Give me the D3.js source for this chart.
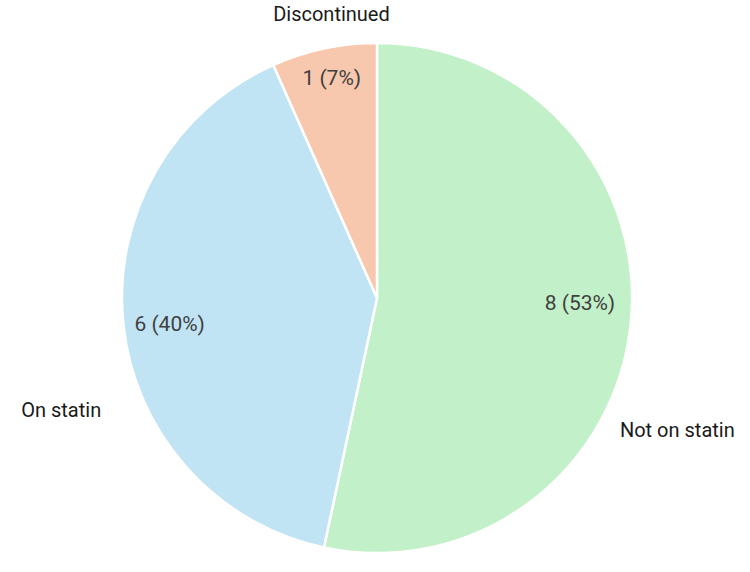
<!DOCTYPE html>
<html><head><meta charset="utf-8">
<script src="https://cdn.jsdelivr.net/npm/d3@7"></script>
<style>body{margin:0;background:#fff}svg{display:block}</style>
</head><body>
<svg id="c" width="750" height="572"></svg>
<script>
const categories = ["Not on statin", "On statin", "Discontinued"];
const counts = [8, 6, 1];
const percentLabels = ["53%", "40%", "7%"];
const colors = ["#c2f0c8", "#c1e4f5", "#f7c8ad"];

// layout (angles in degrees, clockwise from 12 o'clock)
const innerLabelAngles = [91.4, 262.8, 348.4];
const innerLabelRadius = [203, 209, 225];
const outerLabelAngles = [113.7, 250.5, 350.9];
const outerLabelRadius = [328, 335, 288];

const W = 750, H = 572, cx = 377, cy = 298, R = 255;
const svg = d3.select("#c");
const g = svg.append("g").attr("transform", `translate(${cx},${cy})`);

const data = categories.map((c, i) => ({cat: c, value: counts[i], pct: percentLabels[i], color: colors[i], i}));
const pie = d3.pie().value(d => d.value).sort(null);
const arc = d3.arc().innerRadius(0).outerRadius(R);
const arcs = pie(data);

g.selectAll("path").data(arcs).join("path")
  .attr("d", arc)
  .attr("fill", d => d.data.color)
  .attr("stroke", "#fff")
  .attr("stroke-width", 2.5)
  .attr("stroke-linejoin", "round");

const pos = (deg, r) => {
  const a = deg * Math.PI / 180;
  return [r * Math.sin(a), -r * Math.cos(a)];
};

g.selectAll("text.inner").data(arcs).join("text")
  .attr("class", "inner")
  .attr("x", d => pos(innerLabelAngles[d.data.i], innerLabelRadius[d.data.i])[0])
  .attr("y", d => pos(innerLabelAngles[d.data.i], innerLabelRadius[d.data.i])[1])
  .attr("text-anchor", "middle")
  .attr("dominant-baseline", "central")
  .attr("font-family", "Roboto, sans-serif")
  .attr("font-size", 21)
  .attr("fill", "#404040")
  .text(d => `${d.data.value} (${d.data.pct})`);

g.selectAll("text.outer").data(arcs).join("text")
  .attr("class", "outer")
  .attr("x", d => pos(outerLabelAngles[d.data.i], outerLabelRadius[d.data.i])[0])
  .attr("y", d => pos(outerLabelAngles[d.data.i], outerLabelRadius[d.data.i])[1])
  .attr("text-anchor", "middle")
  .attr("dominant-baseline", "central")
  .attr("font-family", "Roboto, sans-serif")
  .attr("font-size", 20)
  .attr("fill", "#1a1a1a")
  .text(d => d.data.cat);
</script>
</body></html>
